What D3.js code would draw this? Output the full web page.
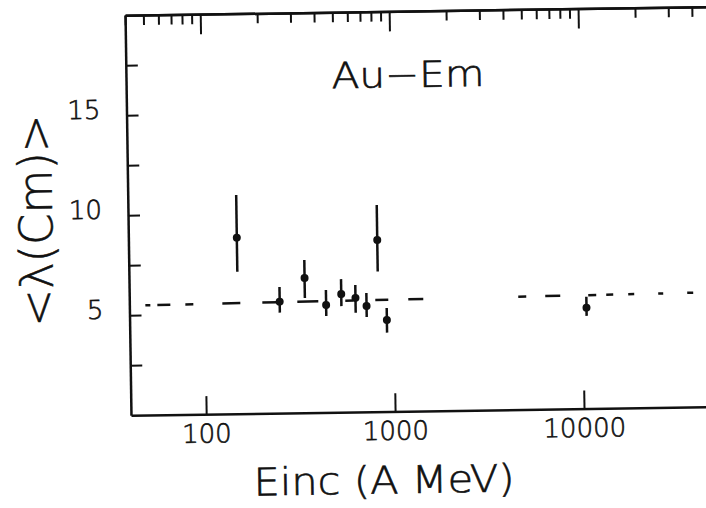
<!DOCTYPE html>
<html>
<head>
<meta charset="utf-8">
<script src="https://cdn.jsdelivr.net/npm/d3@7"></script>
<style>
  body { margin: 0; background: #fff; }
  svg { display: block; }
  text { font-family: "DejaVu Sans", sans-serif; font-weight: 200; fill: #111; stroke: #111; stroke-width: 0.6px; }
</style>
</head>
<body>
<svg width="706" height="508"></svg>
<script>
//	data
var energy = [150, 250, 340, 440, 530, 630, 720, 830, 920, 10500];
var lambda = [8.8, 5.57, 6.73, 5.37, 5.9, 5.7, 5.29, 8.58, 4.57, 5.04];
var errLow = [7.1, 5.02, 5.73, 4.82, 5.3, 4.96, 4.74, 7.0, 3.94, 4.63];
var errHigh = [10.93, 6.3, 7.63, 6.12, 6.65, 6.35, 5.94, 10.33, 5.17, 5.59];
//	dashed fit line end points
var fitE = [40, 100000];
var fitY = [5.48, 5.74];
//	ticks
var xMajor = [100, 1000, 10000];
var yTicks = [2.5, 5, 7.5, 10, 12.5, 15, 17.5];
var yLabelled = [5, 10, 15];

var svg = d3.select("svg");
//	the scanned figure is a little tilted
var g = svg.append("g").attr("transform", "rotate(-0.85,416,212)");

var x = d3.scaleLog().domain([40, 100000]).range([128, 770]);
var y = d3.scaleLinear().domain([0, 20]).range([411, 11]);

//	bottom axis
var bottom = g.append("g")
        .attr("transform", "translate(0," + y(0) + ")")
        .call(d3.axisBottom(x)
                .tickValues(xMajor)
                .tickFormat(d3.format("d"))
                .tickSizeInner(-18)
                .tickSizeOuter(0)
                .tickPadding(10));
//	top axis, minor then major ticks
var topMinor = g.append("g")
        .attr("transform", "translate(0," + y(20) + ")")
        .call(d3.axisTop(x)
                .tickValues(x.ticks().filter(function (d) {
                    return xMajor.indexOf(d) < 0;
                }))
                .tickFormat("")
                .tickSizeInner(-10)
                .tickSizeOuter(0));
var topMajor = g.append("g")
        .attr("transform", "translate(0," + y(20) + ")")
        .call(d3.axisTop(x)
                .tickValues(xMajor)
                .tickFormat("")
                .tickSizeInner(-20)
                .tickSizeOuter(0));
//	left axis
var left = g.append("g")
        .attr("transform", "translate(" + x(40) + ",0)")
        .call(d3.axisLeft(y)
                .tickValues(yTicks)
                .tickFormat(function (d) {
                    return yLabelled.indexOf(d) >= 0 ? d : "";
                })
                .tickSizeInner(-12)
                .tickSizeOuter(0)
                .tickPadding(26));

g.selectAll(".domain").attr("stroke", "#111").attr("stroke-width", 2.5);
g.selectAll(".tick line").attr("stroke", "#111").attr("stroke-width", 2);
g.selectAll(".tick text").attr("font-size", 26).attr("fill", "#111")
        .attr("font-family", "DejaVu Sans, sans-serif");
left.selectAll(".tick text").attr("dy", "0.1em");

//	dashed fit line
g.append("path")
        .datum(d3.zip(fitE, fitY))
        .attr("fill", "none")
        .attr("stroke", "#111")
        .attr("stroke-width", 2.5)
        .attr("stroke-dasharray", "0,16,5,7,13,15,8,29,18,22,15,20,21,27,8,22,13,20,15,95,8,19,15,28,8,10,7,15,6,24,5,24,6,30,5,100")
        .attr("d", d3.line()
                .x(function (d) {
                    return x(d[0]);
                })
                .y(function (d) {
                    return y(d[1]);
                }));

//	error bars and points
var pts = energy.map(function (e, i) {
    return {e: e, v: lambda[i], lo: errLow[i], hi: errHigh[i]};
});
g.selectAll(".err").data(pts).enter().append("line")
        .attr("class", "err")
        .attr("x1", function (d) { return x(d.e); })
        .attr("x2", function (d) { return x(d.e); })
        .attr("y1", function (d) { return y(d.lo); })
        .attr("y2", function (d) { return y(d.hi); })
        .attr("stroke", "#111")
        .attr("stroke-width", 2.5);
g.selectAll(".pt").data(pts).enter().append("circle")
        .attr("class", "pt")
        .attr("cx", function (d) { return x(d.e); })
        .attr("cy", function (d) { return y(d.v); })
        .attr("r", 4)
        .attr("fill", "#111");

//	labels
g.append("text")
        .attr("x", 410).attr("y", 87)
        .attr("text-anchor", "middle")
        .attr("font-size", 36)
        .attr("textLength", 153)
        .attr("lengthAdjust", "spacingAndGlyphs")
        .text("Au\u2212Em");
g.append("text")
        .attr("x", 380).attr("y", 493)
        .attr("text-anchor", "middle")
        .attr("font-size", 38)
        .attr("textLength", 261)
        .attr("lengthAdjust", "spacingAndGlyphs")
        .text("Einc (A MeV)");
g.append("text")
        .attr("transform", "translate(52,215) rotate(-90)")
        .attr("text-anchor", "middle")
        .attr("font-size", 46)
        .attr("textLength", 212)
        .attr("lengthAdjust", "spacingAndGlyphs")
        .text("<\u03bb(Cm)>");
</script>
</body>
</html>
